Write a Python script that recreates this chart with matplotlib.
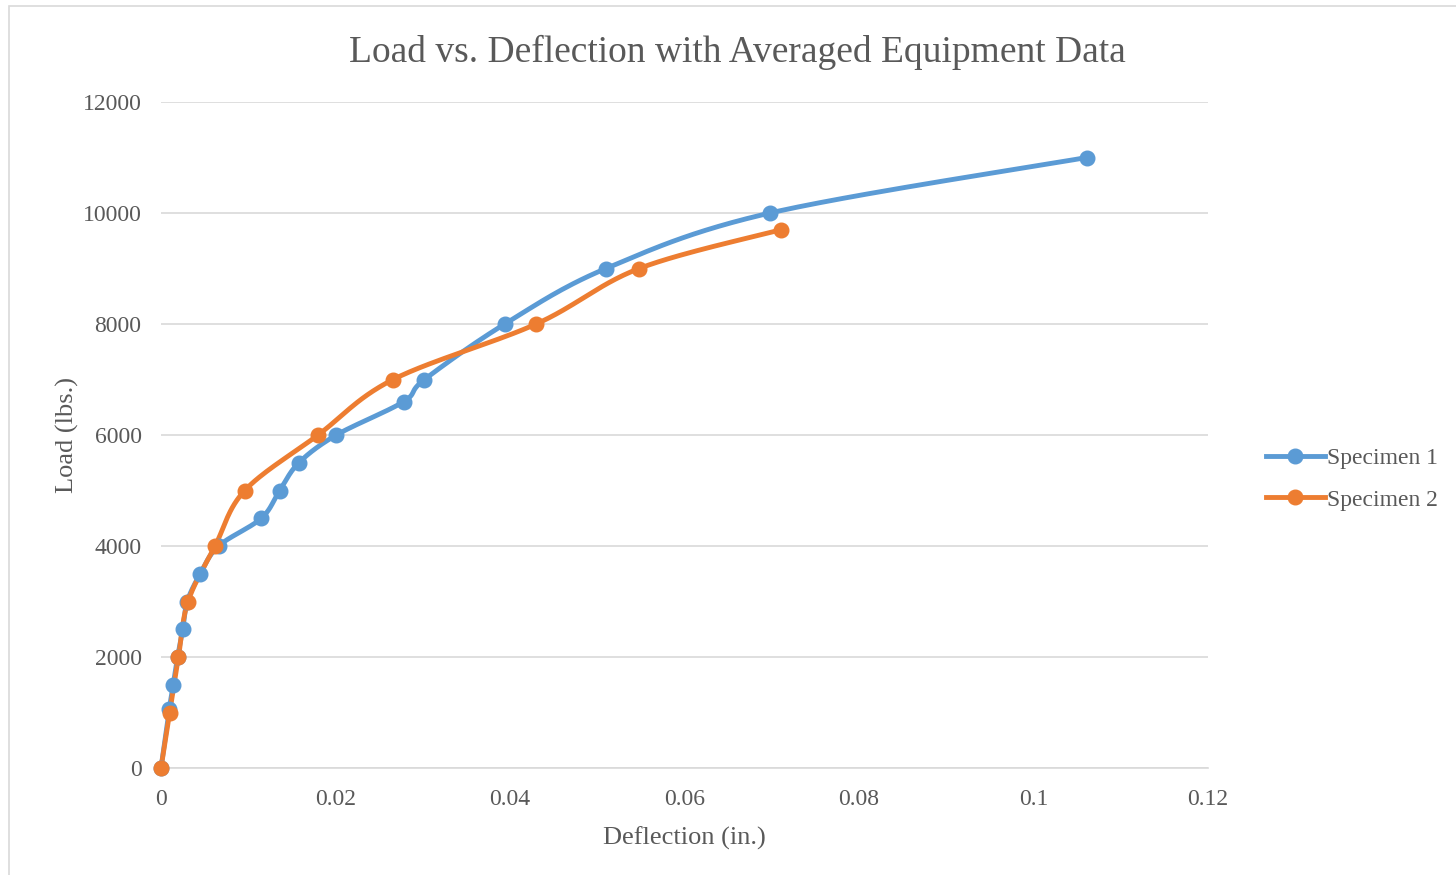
import numpy as np
import matplotlib
matplotlib.use("Agg")
from matplotlib import pyplot as plt
from matplotlib.ticker import FuncFormatter
from matplotlib.patches import Rectangle

# Specimen data
spec1_defl = [0, 0.00095, 0.0014, 0.0019, 0.0025, 0.003, 0.0045, 0.0066, 0.0115,
              0.0136, 0.0158, 0.0201, 0.0278, 0.0302, 0.0394, 0.051, 0.0698, 0.1061]
spec1_load = [0, 1060, 1500, 2000, 2500, 3000, 3500, 4000, 4500,
              5000, 5500, 6000, 6600, 7000, 8000, 9000, 10000, 11000]

spec2_defl = [0, 0.001, 0.002, 0.0031, 0.0062, 0.0096, 0.018, 0.0266, 0.043, 0.0548, 0.0711]
spec2_load = [0, 1000, 2000, 3000, 4000, 5000, 6000, 7000, 8000, 9000, 9700]

x_ticks = [0, 0.02, 0.04, 0.06, 0.08, 0.1, 0.12]
y_ticks = [0, 2000, 4000, 6000, 8000, 10000, 12000]

BLUE = "#5B9BD5"
ORANGE = "#ED7D31"
TXT = "#595959"

plt.rcParams['font.family'] = ['Liberation Serif', 'DejaVu Serif']


def smooth(xs, ys, n=30):
    # excel-style smoothed line (cardinal bezier segments)
    p = np.column_stack([xs, ys]).astype(float)
    sx = 1 / 0.12
    sy = 1 / 12000.
    p = p * [sx, sy]
    out = []
    t = np.linspace(0, 1, n)[:, None]
    for i in range(len(p) - 1):
        p0 = p[i - 1] if i > 0 else p[i]
        p1 = p[i]
        p2 = p[i + 1]
        p3 = p[i + 2] if i + 2 < len(p) else p[i + 1]
        c1 = p1 + (p2 - p0) / 6
        c2 = p2 - (p3 - p1) / 6
        seg = ((1 - t) ** 3) * p1 + 3 * ((1 - t) ** 2) * t * c1 + 3 * (1 - t) * t ** 2 * c2 + t ** 3 * p2
        out.append(seg if i == 0 else seg[1:])
    out = np.vstack(out) / [sx, sy]
    return out[:, 0], out[:, 1]


fig = plt.figure(figsize=(14.56, 8.75), dpi=100)
ax = fig.add_axes([161 / 1456, 1 - 768 / 875, (1208 - 161) / 1456, (768 - 102) / 875])

fig.patches.append(Rectangle((9 / 1456, -0.1), 1.2, 1 - 6 / 875 + 0.1, transform=fig.transFigure,
                             fill=False, edgecolor="#D9D9D9", linewidth=1.2))

for xs, ys, c, lab in [(spec1_defl, spec1_load, BLUE, "Specimen 1"),
                       (spec2_defl, spec2_load, ORANGE, "Specimen 2")]:
    sxv, syv = smooth(xs, ys)
    ax.plot(sxv, syv, color=c, lw=3.5, solid_capstyle='round', zorder=3, clip_on=False)
    ax.plot(xs, ys, 'o', color=c, ms=10.5, zorder=4, clip_on=False)
    ax.plot([], [], '-o', color=c, lw=3.5, ms=10.5, label=lab)

ax.set_xlim(0, 0.12)
ax.set_ylim(0, 12000)
ax.set_xticks(x_ticks)
ax.set_yticks(y_ticks)
ax.xaxis.set_major_formatter(FuncFormatter(lambda v, p: "%g" % v))
ax.grid(axis='y', color="#D9D9D9", lw=1.2)
ax.set_axisbelow(True)
for s in ['top', 'right', 'left']:
    ax.spines[s].set_visible(False)
ax.spines['bottom'].set_color("#D9D9D9")
ax.spines['bottom'].set_linewidth(1.2)
ax.tick_params(axis='y', length=0, labelsize=17, labelcolor=TXT, pad=14)
ax.tick_params(axis='x', length=0, labelsize=17, labelcolor=TXT, pad=15)

ax.set_xlabel("Deflection (in.)", fontsize=19, color=TXT, labelpad=12)
ax.set_ylabel("Load (lbs.)", fontsize=19, color=TXT, labelpad=3)
fig.text(737 / 1456, 1 - 52 / 875, "Load vs. Deflection with Averaged Equipment Data",
         fontsize=27, color=TXT, ha='center', va='center')

ax.legend(loc='center left', bbox_to_anchor=(1.035, 0.434), frameon=False, fontsize=17,
          labelcolor=TXT, handlelength=2.5, handletextpad=0.1, labelspacing=0.85)

fig.savefig("out.png", dpi=100)
